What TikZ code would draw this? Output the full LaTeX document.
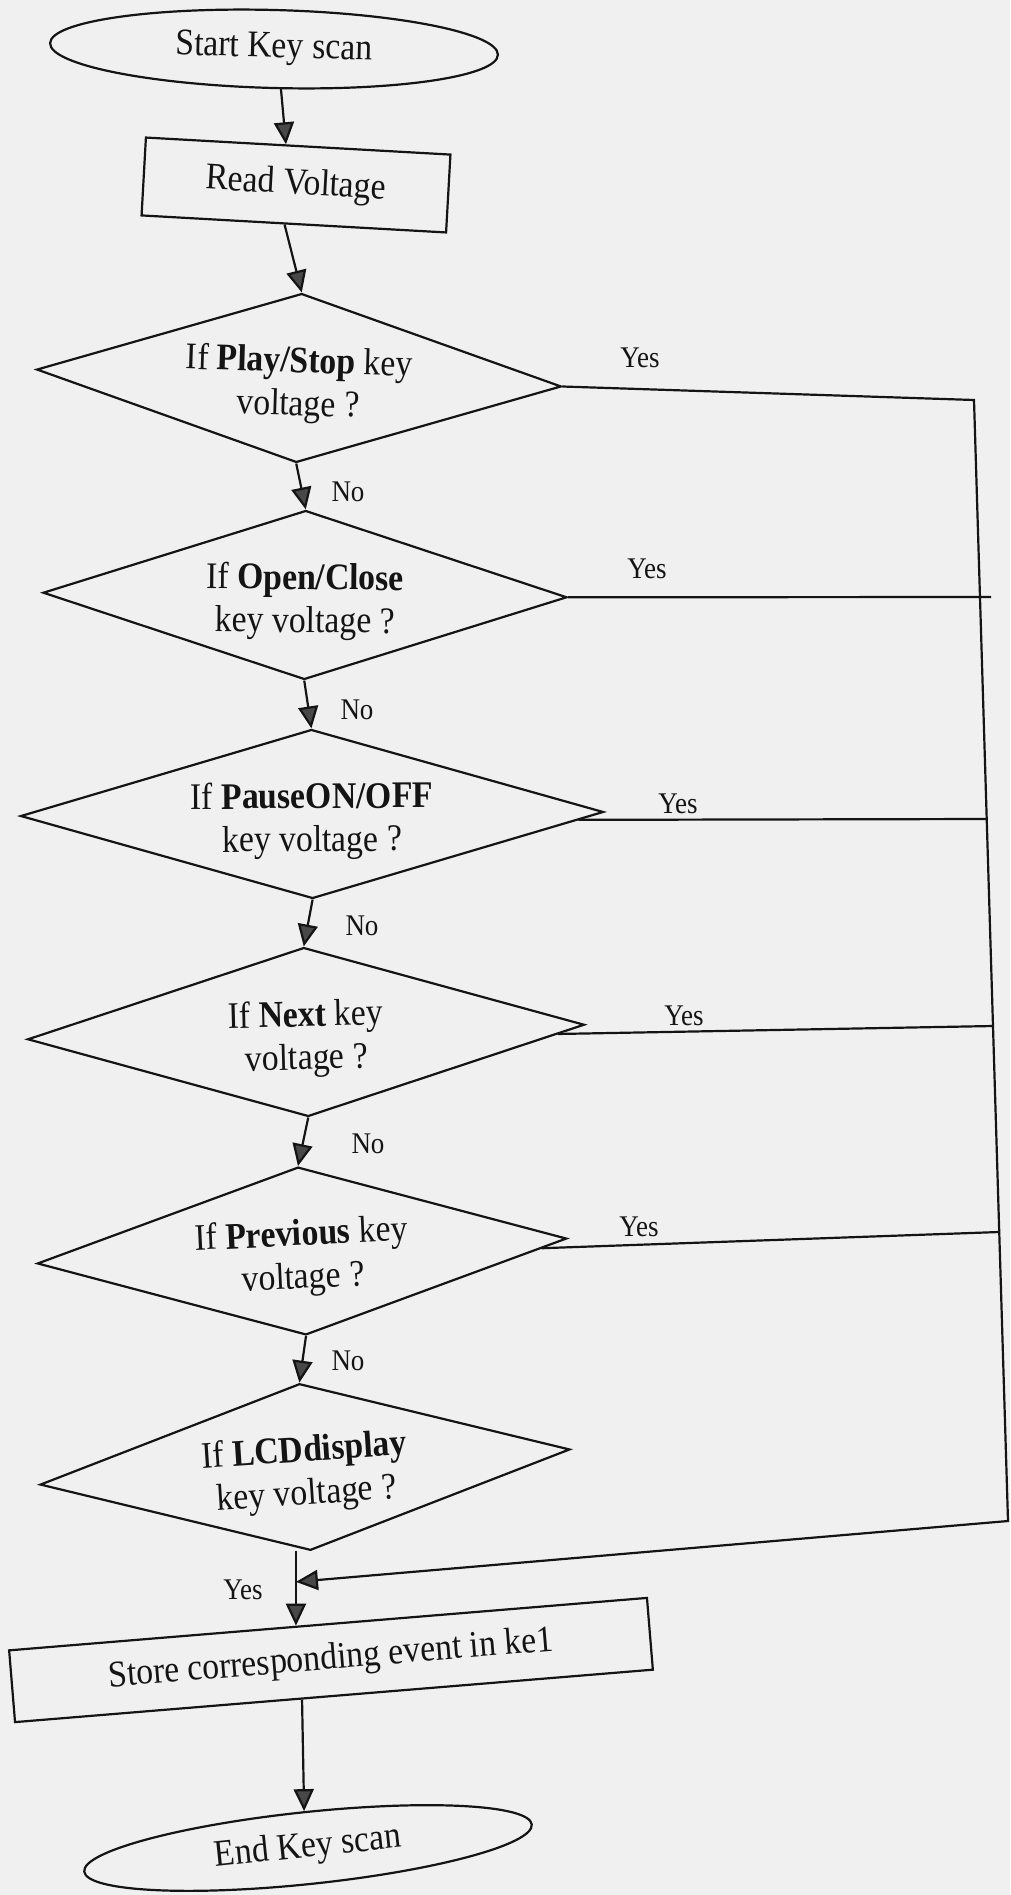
\documentclass[tikz,border=0pt]{standalone}
\usepackage{fontspec}
\setmainfont{Liberation Serif}[FakeStretch=0.9]
\usetikzlibrary{shapes.geometric,arrows.meta,calc}
\definecolor{paper}{RGB}{240,240,240}
\definecolor{ink}{RGB}{20,20,20}
\definecolor{tipfill}{RGB}{72,72,72}
% taller first line, pushes two-line decision text slightly down
\newcommand{\firstline}{\rule{0pt}{40pt}}

\begin{document}
\begin{tikzpicture}[x=1pt,y=-1pt,
  every node/.style={text=ink},
  boxtext/.style={font=\fontsize{37.5}{43}\selectfont},
  terminal/.style={boxtext, draw=ink, line width=2.2pt, ellipse, inner sep=0pt},
  process/.style={boxtext, draw=ink, line width=2.2pt, rectangle, inner sep=0pt},
  decision/.style={boxtext, draw=ink, line width=2.2pt, diamond, inner sep=0pt, align=center},
  lbl/.style={font=\fontsize{30}{34}\selectfont, inner sep=0pt},
  link/.style={draw=ink, line width=2.2pt},
  arr/.style={link, -{Triangle[width=20pt,length=22pt,fill=tipfill]}},
]
% page
\fill[paper] (0,0) rectangle (1010,1895);
\useasboundingbox (0,0) rectangle (1010,1895);

% boxes
\node[terminal, minimum width=448pt, minimum height=78pt, rotate=-1.5] (start) at (274,49) {Start Key scan};
\node[process, minimum width=305pt, minimum height=78pt, rotate=-3.2] (read) at (296,185) {Read Voltage};
\node[decision, minimum width=525pt, minimum height=169pt, aspect=3.1, rotate=-1.85] (d1) at (299,378)
  {\firstline If \textbf{Play/Stop} key\\voltage ?};
\node[decision, minimum width=524pt, minimum height=169pt, aspect=3.1, rotate=-0.5] (d2) at (305,595)
  {\firstline If \textbf{Open/Close}\\key voltage ?};
\node[decision, minimum width=583pt, minimum height=169pt, aspect=3.45, rotate=0.4] (d3) at (312,814)
  {\firstline If \textbf{PauseON/OFF}\\key voltage ?};
\node[decision, minimum width=557pt, minimum height=169pt, aspect=3.3, rotate=1.5] (d4) at (306,1032)
  {\firstline If \textbf{Next} key\\voltage ?};
\node[decision, minimum width=530pt, minimum height=168pt, aspect=3.15, rotate=2.7] (d5) at (302,1251)
  {\firstline If \textbf{Previous} key\\voltage ?};
\node[decision, minimum width=531pt, minimum height=167pt, aspect=3.18, rotate=3.8] (d6) at (305,1467)
  {\firstline If \textbf{LCDdisplay}\\key voltage ?};
\node[process, minimum width=640pt, minimum height=72pt, rotate=4.7] (store) at (331,1660)
  {Store corresponding event in ke1};
\node[terminal, minimum width=450pt, minimum height=72pt, rotate=6] (end) at (308,1848) {End Key scan};

% branch labels
\node[lbl] (yes1) at (640,358) {Yes};
\node[lbl] (no1) at (348,492) {No};
\node[lbl] (yes2) at (647,569) {Yes};
\node[lbl] (no2) at (357,710) {No};
\node[lbl] (yes3) at (678,804) {Yes};
\node[lbl] (no3) at (362,926) {No};
\node[lbl] (yes4) at (684,1016) {Yes};
\node[lbl] (no4) at (368,1144) {No};
\node[lbl] (yes5) at (639,1227) {Yes};
\node[lbl] (no5) at (348,1361) {No};
\node[lbl] (yes6) at (243,1590) {Yes};

% collector line on the right
\coordinate (rt) at (974,400);
\coordinate (rb) at (1008,1521);
\coordinate (y2e) at (991,597);
\coordinate (y3e) at (987,819);
\coordinate (y4e) at (993,1026);
\coordinate (y5e) at (999,1232);
\coordinate (storein) at ($(store.north west)!0.45!(store.north east)$);
\coordinate (storeout) at ($(store.south west)!0.45!(store.south east)$);
\coordinate (dout) at (d6.south -| storein);
\coordinate (ret) at ($(dout)!0.41!(storein)$);

% main flow
\draw[arr] ([xshift=8pt]start.south) -- ($(read.north west)!0.46!(read.north east)$);
\draw[arr] ($(read.south west)!0.47!(read.south east)$) -- (d1.north);
\draw[arr] (d1.south) -- (d2.north);
\draw[arr] (d2.south) -- (d3.north);
\draw[arr] (d3.south) -- (d4.north);
\draw[arr] (d4.south) -- (d5.north);
\draw[arr] (d5.south) -- (d6.north);
\draw[arr] (dout) -- (storein);
\draw[arr] (storeout) -- (end.north);

% yes branches
\draw[arr] (d1.east) -- (rt) -- (rb) -- (ret);
\draw[link] (d2.east) -- (y2e);
\draw[link] ($(d3.east)!0.09!(d3.south)$) -- (y3e);
\draw[link] ($(d4.east)!0.1!(d4.south)$) -- (y4e);
\draw[link] ($(d5.east)!0.1!(d5.south)$) -- (y5e);
\end{tikzpicture}
\end{document}
